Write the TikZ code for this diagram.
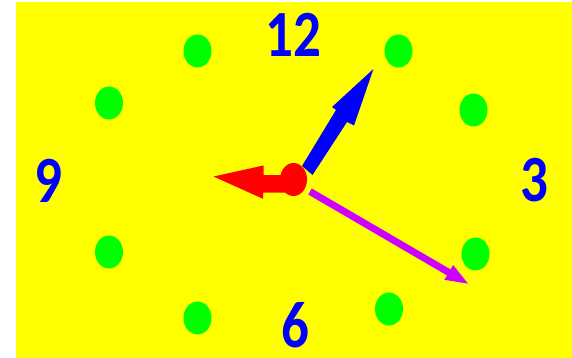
\documentclass[tikz,border=0pt]{standalone}
\usepackage{fontspec}
\newfontfamily\clockfont{Carlito}
\usetikzlibrary{arrows.meta}
\definecolor{bgyellow}{RGB}{255,255,0}
\definecolor{dotgreen}{RGB}{0,255,0}
\definecolor{numblue}{RGB}{0,0,255}
\definecolor{handred}{RGB}{255,0,0}
\definecolor{handmag}{RGB}{204,0,255}
\tikzset{
  dot/.style={fill=dotgreen, draw=none, ellipse, minimum width=28pt, minimum height=33pt, inner sep=0pt},
  numtext/.style={text=numblue, inner sep=0pt, font=\clockfont\bfseries\fontsize{55}{55}\selectfont},
}
\usetikzlibrary{shapes.geometric}
\newcommand{\clocknum}[1]{\scalebox{1}[1.2]{#1}}
\begin{document}
\begin{tikzpicture}[x=1pt,y=-1pt]
\fill[white] (0,0) rectangle (572,358);
\useasboundingbox (0,0) rectangle (572,358);
\fill[bgyellow] (16,2) rectangle (572,358);
% dots
\node[dot] (d1) at (197.5,51) {};
\node[dot] (d2) at (398.5,51) {};
\node[dot] (d3) at (109,103) {};
\node[dot] (d4) at (473.5,110) {};
\node[dot] (d5) at (109,252) {};
\node[dot] (d6) at (475.5,254) {};
\node[dot] (d7) at (197.5,318) {};
\node[dot] (d8) at (389,309) {};
% numbers
\node[numtext] (n12) at (293.5,35) {\clocknum{12}};
\node[numtext] (n9) at (48,181) {\clocknum{9}};
\node[numtext] (n3) at (534,180) {\clocknum{3}};
\node[numtext] (n6) at (295,325) {\clocknum{6}};
% hands
\fill[numblue] (373.4,69) -- (354,125.5) -- (347,122) -- (312.5,175) -- (302,166) -- (336,110) -- (332,107) -- cycle;
\fill[handred] (213.5,176.5) -- (263.5,165.5) -- (263.5,175) -- (286,175) -- (286,192.5) -- (263,192.5) -- (263,198.8) -- cycle;
\coordinate (mstart) at (310,191.5);
\coordinate (mend) at (469.5,284.5);
\draw[handmag, line width=7pt, -{Triangle[length=24pt,width=15pt]}] (mstart) -- (mend);
\node[fill=handred, draw=none, ellipse, minimum width=27pt, minimum height=33pt, inner sep=0pt] (hub) at (293.5,179.5) {};
\end{tikzpicture}
\end{document}
